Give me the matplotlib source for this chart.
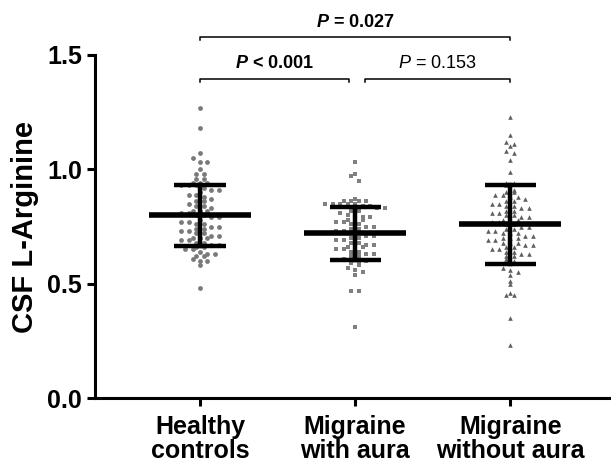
import matplotlib.pyplot as plt
import numpy as np

plt.rcParams['font.family'] = ['Liberation Sans', 'DejaVu Sans']
plt.rcParams['mathtext.fontset'] = 'custom'
plt.rcParams['mathtext.it'] = 'Liberation Sans:italic'
plt.rcParams['mathtext.bf'] = 'Liberation Sans:bold'
plt.rcParams['mathtext.bfit'] = 'Liberation Sans:bold:italic'

# groups and tick labels
groups = ['Healthy\ncontrols', 'Migraine\nwith aura', 'Migraine\nwithout aura']

# individual values
healthy = [1.27, 1.18, 1.07, 1.05, 1.03, 1.03, 1.00, 0.98, 0.98, 0.96, 0.96,
           0.94, 0.94, 0.94, 0.93, 0.93, 0.93, 0.92, 0.91, 0.91, 0.90, 0.89,
           0.89, 0.88, 0.87, 0.86, 0.86, 0.85, 0.84, 0.84, 0.83, 0.82, 0.82,
           0.82, 0.81, 0.81, 0.80, 0.80, 0.79, 0.79, 0.78, 0.77, 0.77, 0.76,
           0.76, 0.75, 0.75, 0.74, 0.74, 0.73, 0.73, 0.72, 0.72, 0.71, 0.71,
           0.70, 0.70, 0.70, 0.69, 0.69, 0.68, 0.68, 0.67, 0.67, 0.66, 0.66,
           0.65, 0.65, 0.64, 0.63, 0.63, 0.62, 0.62, 0.61, 0.60, 0.60, 0.58,
           0.48]
with_aura = [1.03, 0.98, 0.97, 0.95, 0.87, 0.86, 0.86, 0.86, 0.86, 0.85, 0.85,
             0.85, 0.85, 0.85, 0.84, 0.84, 0.83, 0.83, 0.82, 0.82, 0.81, 0.80,
             0.80, 0.79, 0.79, 0.78, 0.78, 0.78, 0.77, 0.77, 0.76, 0.76, 0.75,
             0.75, 0.74, 0.74, 0.73, 0.73, 0.72, 0.72, 0.71, 0.71, 0.70, 0.70,
             0.69, 0.69, 0.68, 0.68, 0.67, 0.67, 0.66, 0.66, 0.66, 0.65, 0.65,
             0.64, 0.64, 0.63, 0.63, 0.62, 0.62, 0.61, 0.61, 0.60, 0.60, 0.59,
             0.58, 0.57, 0.56, 0.55, 0.54, 0.47, 0.47, 0.31]
without_aura = [1.23, 1.15, 1.12, 1.11, 1.10, 1.08, 1.07, 1.04, 0.99, 0.94, 0.94,
                0.93, 0.91, 0.90, 0.90, 0.89, 0.89, 0.88, 0.88, 0.87, 0.86, 0.86,
                0.85, 0.85, 0.84, 0.84, 0.83, 0.83, 0.82, 0.82, 0.81, 0.81, 0.80,
                0.80, 0.79, 0.79, 0.78, 0.78, 0.78, 0.77, 0.77, 0.76, 0.76, 0.75,
                0.75, 0.74, 0.74, 0.73, 0.73, 0.72, 0.72, 0.72, 0.71, 0.71, 0.70,
                0.70, 0.70, 0.69, 0.69, 0.68, 0.68, 0.68, 0.67, 0.67, 0.66, 0.66,
                0.65, 0.65, 0.64, 0.64, 0.63, 0.63, 0.62, 0.62, 0.61, 0.60, 0.57,
                0.56, 0.55, 0.54, 0.51, 0.50, 0.46, 0.45, 0.45, 0.35, 0.23]

# mean and SD as drawn in the figure
means = [0.80, 0.72, 0.76]
sds = [0.133, 0.115, 0.172]

# comparisons: (from, to, text, weight, level)
comparisons = [(1, 3, r'$\mathbfit{P}$ = 0.027', 'bold', 1.578),
               (1, 1.96, r'$\mathbfit{P}$ < 0.001', 'bold', 1.395),
               (2.065, 3, r'$\mathit{P}$ = 0.153', 'normal', 1.395)]

markers = ['o', 's', '^']
colors = ['#7a7a7a', '#808080', '#5e5e5e']
sizes = [12, 11, 11]


def swarm_x(vals, center, step=0.048, binw=0.02):
    # spread points with similar values horizontally in rows
    vals = np.asarray(vals)
    xs = np.zeros(len(vals))
    bins = np.round(vals / binw).astype(int)
    for b in np.unique(bins):
        idx = np.where(bins == b)[0]
        n = len(idx)
        offs = (np.arange(n) - (n - 1) / 2) * step
        xs[idx] = center + offs
    return xs


fig = plt.figure(figsize=(6.11, 4.70), dpi=100)
ax = fig.add_axes([0.1555, 0.153, 0.8445, 0.730])

data = [healthy, with_aura, without_aura]
for i, vals in enumerate(data):
    pos = i + 1
    ax.scatter(swarm_x(vals, pos), vals, marker=markers[i], s=sizes[i],
               color=colors[i], linewidths=0, zorder=2)
    m, sd = means[i], sds[i]
    ax.plot([pos - 0.33, pos + 0.33], [m, m], color='black', lw=4.0,
            solid_capstyle='butt', zorder=3)
    ax.plot([pos, pos], [m - sd, m + sd], color='black', lw=3.2, zorder=3)
    for y in (m - sd, m + sd):
        ax.plot([pos - 0.165, pos + 0.165], [y, y], color='black', lw=3.2,
                solid_capstyle='butt', zorder=3)

# significance brackets
for x0, x1, txt, w, lev in comparisons:
    ax.plot([x0, x0, x1, x1], [lev - 0.014, lev, lev, lev - 0.014],
            color='black', lw=1.1, clip_on=False)
    ax.text((x0 + x1) / 2, lev + 0.046, txt, ha='center', va='baseline',
            fontsize=13, fontweight=w, clip_on=False)

ax.set_xlim(0.323, 3.65)
ax.set_ylim(0, 1.5)
ax.set_yticks([0, 0.5, 1.0, 1.5])
ax.set_yticklabels(['0.0', '0.5', '1.0', '1.5'], fontsize=18, fontweight='bold')
ax.set_xticks([1, 2, 3])
ax.set_xticklabels(groups, fontsize=18, fontweight='bold', linespacing=1.0)
ax.set_ylabel('CSF L-Arginine', fontsize=21, fontweight='bold', labelpad=6)

for s in ['top', 'right']:
    ax.spines[s].set_visible(False)
for s in ['left', 'bottom']:
    ax.spines[s].set_linewidth(2.2)
ax.tick_params(axis='both', width=2.2, length=5.5, direction='out')
ax.tick_params(axis='x', pad=7)
ax.tick_params(axis='y', pad=4)

plt.savefig('out.png', dpi=100)
